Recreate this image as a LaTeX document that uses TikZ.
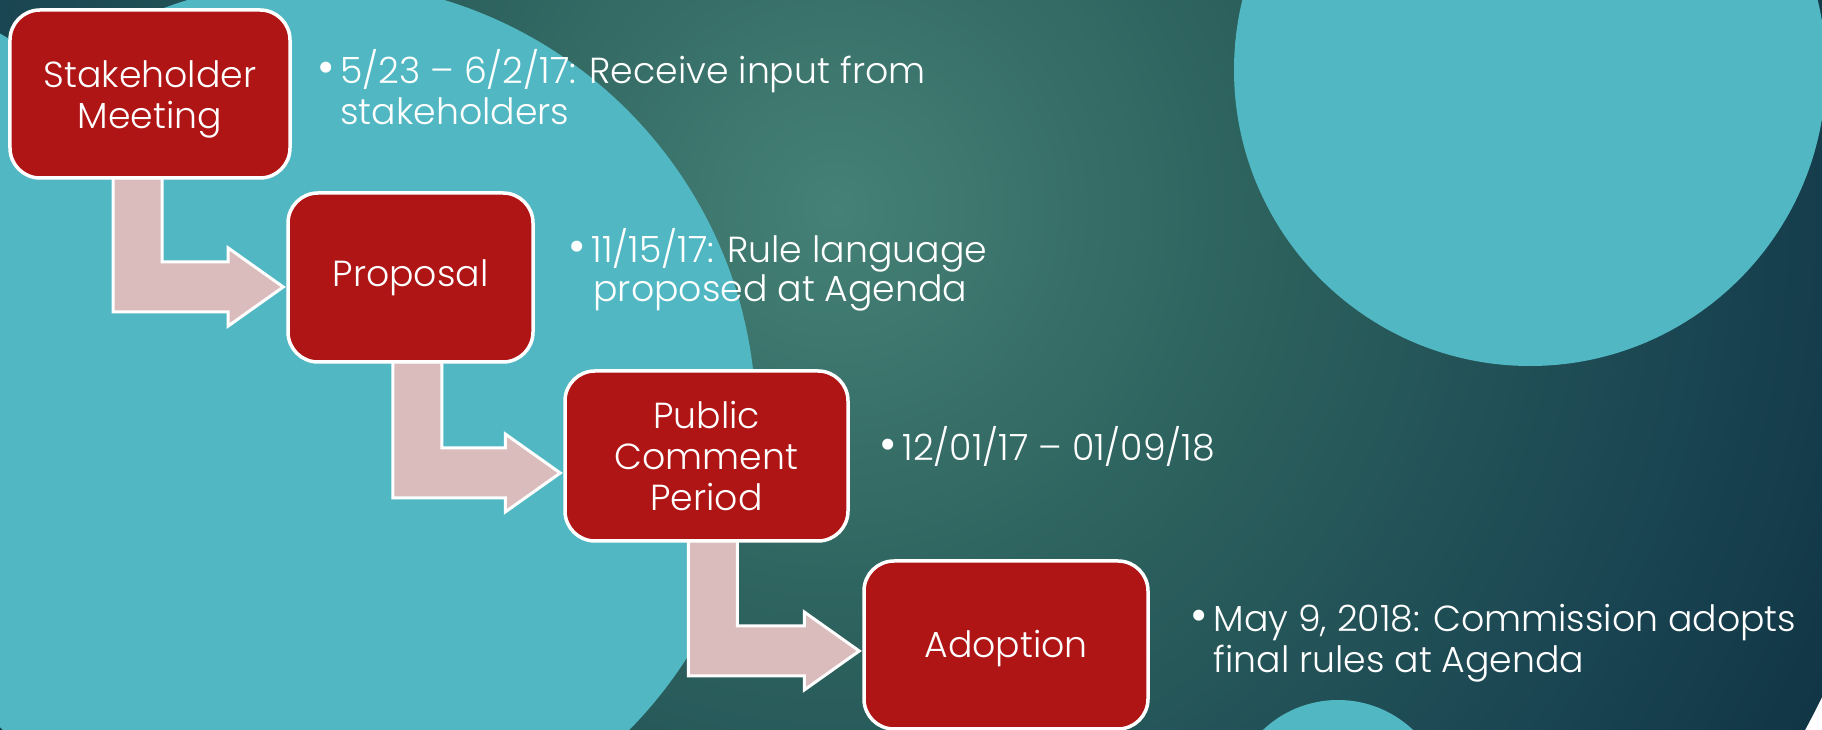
\documentclass[tikz,border=0pt]{standalone}
\usepackage{fontspec}
\setmainfont{Poppins}[UprightFont=*-Light]
\usetikzlibrary{calc}
\pgfdeclarelayer{bg}
\pgfdeclarelayer{arrows}
\pgfsetlayers{bg,arrows,main}
\definecolor{boxred}{HTML}{B01515}
\definecolor{arrowpink}{HTML}{DBBCBD}
\definecolor{cyanc}{HTML}{51B8C3}
\definecolor{bgA}{HTML}{458176}
\definecolor{bgB}{HTML}{2C615D}
\definecolor{bgC}{HTML}{1A4552}
\definecolor{bgD}{HTML}{113646}
\pgfdeclareradialshading{bgshade}{\pgfpoint{0bp}{0bp}}{color(0bp)=(bgA); color(9.8bp)=(bgB); color(19.5bp)=(bgC); color(25bp)=(bgD); color(50bp)=(bgD)}
\newcommand\steparrow[4]{%
  \coordinate (sc) at ($(#1.south west)+(#3,-2)$);
  \coordinate (tp) at ($(#2.west)+(-3,#4)$);
  \coordinate (sL) at ($(sc)+(-24.5,0)$);
  \coordinate (sR) at ($(sc)+(24.5,0)$);
  \coordinate (hT) at ($(tp)+(-55,-25)$);
  \coordinate (hB) at ($(tp)+(-55,25)$);
  \coordinate (hTT) at ($(tp)+(-55,-39)$);
  \coordinate (hBB) at ($(tp)+(-55,39)$);
  \begin{pgfonlayer}{arrows}
  \draw[bentarrow] (sL) -- (sR) -- (sR |- hT) -- (hT) -- (hTT) -- (tp) -- (hBB) -- (hB) -- (sL |- hB) -- cycle;
  \end{pgfonlayer}}
\newcommand\bul{\llap{{\fontsize{19}{19}\selectfont •}\hspace{2.2pt}}}
\begin{document}
\begin{tikzpicture}[x=0.4pt,y=-0.4pt,
  stepbox/.style={draw=white, line width=1.4pt, fill=boxred, rounded corners=12pt, text=white, align=center, font=\fontsize{14.5}{16.4}\selectfont, inner sep=0pt},
  bentarrow/.style={draw=white, line width=1.2pt, fill=arrowpink, line join=miter},
  bullettext/.style={anchor=base west, text=white, inner sep=0pt, font=\fontsize{14.5}{16.4}\selectfont},
]
\useasboundingbox (0,0) rectangle (1822,730);
\begin{pgfonlayer}{bg}
\begin{scope}
\clip (0,0) rectangle (1822,730);
\shade[shading=bgshade] (836,209) circle[radius=1100];
\fill[cyanc] (316,421) circle[radius=440];
\fill[cyanc] (-200,380) circle[radius=400];
\fill[cyanc] (1530,70) circle[radius=296];
\fill[cyanc] (1338,809) circle[radius=109];
\end{scope}
\end{pgfonlayer}

\node[stepbox, minimum width=112pt, minimum height=67.2pt] (b1) at (150,94) {\rule{0pt}{15pt}Stakeholder\\Meeting};
\node[stepbox, minimum width=98pt, minimum height=67.6pt] (b2) at (410.5,277.5) {Proposal};
\node[stepbox, minimum width=113.2pt, minimum height=68pt] (b3) at (706.5,456) {Public\\Comment\\Period};
\node[stepbox, minimum width=113.6pt, minimum height=67.2pt, text height=14pt] (b4) at (1006,645) {Adoption};

\steparrow{b1}{b2}{129.5}{9.5}
\steparrow{b2}{b3}{131}{17}
\steparrow{b3}{b4}{149.5}{6}

\node[bullettext] (t1a) at (340,84) {\bul 5/23 – 6/2/17: Receive input from};
\node[bullettext] (t1b) at (340,125) {stakeholders};
\node[bullettext] (t2a) at (591,263) {\bul 11/15/17: Rule language};
\node[bullettext] (t2b) at (593,302) {proposed at Agenda};
\node[bullettext] (t3) at (902,461) {\bul 12/01/17 – 01/09/18};
\node[bullettext] (t4a) at (1213,632) {\bul May 9, 2018: Commission adopts};
\node[bullettext] (t4b) at (1213,673) {final rules at Agenda};
\end{tikzpicture}
\end{document}
